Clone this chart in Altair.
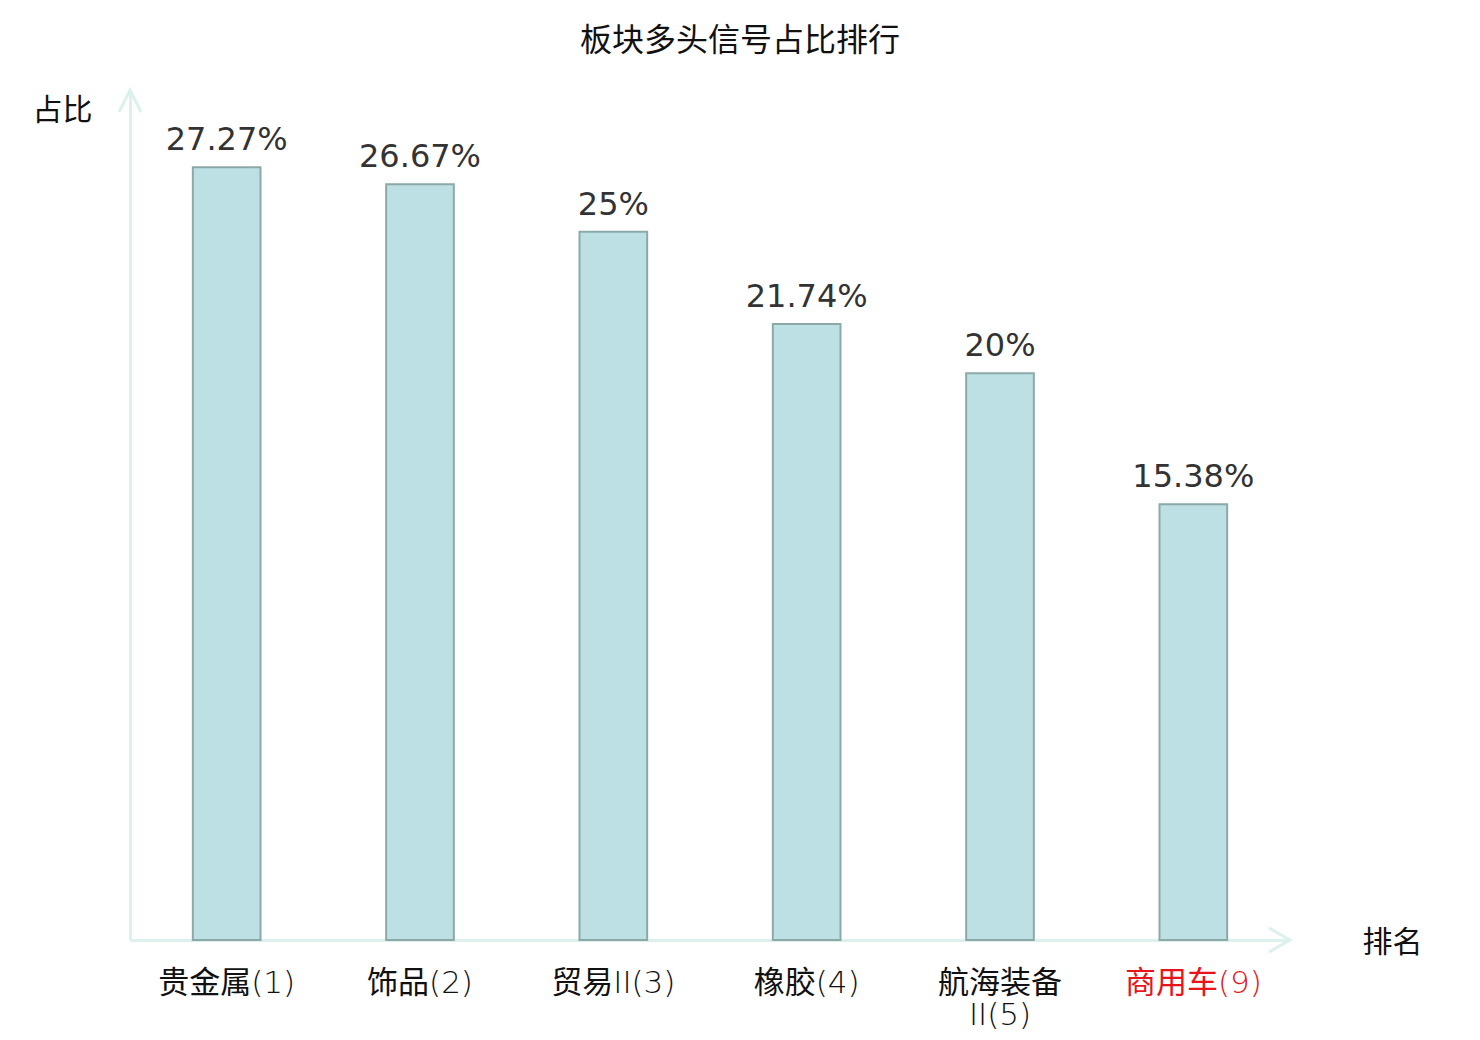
import altair as alt
import pandas as pd

# ---- data ----
categories = ["贵金属(1)", "饰品(2)", "贸易II(3)", "橡胶(4)", "航海装备II(5)", "商用车(9)"]
values = [27.27, 26.67, 25, 21.74, 20, 15.38]
value_labels = ["27.27%", "26.67%", "25%", "21.74%", "20%", "15.38%"]
highlight = "商用车(9)"

df = pd.DataFrame({"cat": categories, "val": values, "lab": value_labels})

W, H = 1160, 850
AXIS_COLOR = "#dcf1ee"
CJK = "Noto Sans CJK SC"
LABEL_FONT = "'DejaVu Sans Light', 'Noto Sans CJK SC', sans-serif"

x_enc = alt.X(
    "cat:N",
    sort=categories,
    scale=alt.Scale(paddingInner=0.65, paddingOuter=0.325),
    axis=alt.Axis(
        title="排名",
        titleAngle=0,
        titleAlign="left",
        titleBaseline="middle",
        titleX=1232,
        titleY=2,
        titleFont=CJK,
        titleFontSize=30,
        titleFontWeight="normal",
        titleColor="#111111",
        labelAngle=0,
        labelFont=LABEL_FONT,
        labelFontSize=31,
        labelFontWeight="normal",
        labelPadding=28,
        labelLineHeight=32,
        labelLimit=0,
        labelOverlap=False,
        labelExpr="length(datum.label) > 8 ? [slice(datum.label, 0, 4), slice(datum.label, 4)] : datum.label",
        labelColor={
            "condition": {"test": f"datum.value == '{highlight}'", "value": "#e8141c"},
            "value": "#111111",
        },
        ticks=False,
        tickSize=0,
        domainColor=AXIS_COLOR,
        domainWidth=3,
        grid=False,
    ),
)

y_enc = alt.Y(
    "val:Q",
    scale=alt.Scale(domain=[0, 30], nice=False),
    axis=alt.Axis(
        title="占比",
        titleAngle=0,
        titleAlign="right",
        titleBaseline="middle",
        titleX=-38,
        titleY=20,
        titleFont=CJK,
        titleFontSize=30,
        titleFontWeight="normal",
        titleColor="#111111",
        labels=False,
        ticks=False,
        tickSize=0,
        grid=False,
        domainColor=AXIS_COLOR,
        domainWidth=3,
    ),
)

base = alt.Chart(df).encode(x=x_enc, y=y_enc)

bars = base.mark_bar(fill="#bce0e3", stroke="#8ca9a8", strokeWidth=2)

texts = base.mark_text(
    dy=-17, baseline="alphabetic", fontSize=32, font="DejaVu Sans", color="#333333"
).encode(text="lab:N")

one = pd.DataFrame({"a": [0]})
arrow_y = alt.Chart(one).mark_point(
    shape="M-0.5,1L0,0L0.5,1", size=1936, filled=False, stroke=AXIS_COLOR, strokeWidth=3, opacity=1
).encode(x=alt.value(0), y=alt.value(0))
arrow_x = alt.Chart(one).mark_point(
    shape="M-0.95,-0.55L0,0L-0.95,0.55", size=1936, filled=False, stroke=AXIS_COLOR, strokeWidth=3, opacity=1
).encode(x=alt.value(W), y=alt.value(H))

chart = (
    alt.layer(bars, texts, arrow_y, arrow_x)
    .properties(
        width=W,
        height=H,
        background="white",
        title=alt.TitleParams(
            "板块多头信号占比排行",
            font=CJK,
            fontSize=32,
            fontWeight="normal",
            color="#111111",
            anchor="middle",
            dx=30,
            dy=6,
            baseline="bottom",
            offset=0,
        ),
        autosize=alt.AutoSizeParams(type="none"),
        padding={"left": 122, "top": 82, "right": 182, "bottom": 90},
    )
    .configure_view(strokeWidth=0, stroke="transparent")
)

chart.save("out.html", embed_options={"renderer": "svg", "actions": False})
